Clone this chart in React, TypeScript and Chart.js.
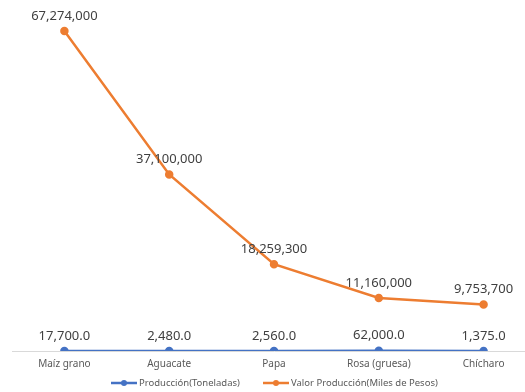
import React, { useEffect, useRef } from "react";
import { Chart, registerables } from "chart.js";

Chart.register(...registerables);

const categories = ["Maíz grano", "Aguacate", "Papa", "Rosa (gruesa)", "Chícharo"];
const produccion = [17700, 2480, 2560, 62000, 1375];
const valorProduccion = [67274000, 37100000, 18259300, 11160000, 9753700];
const seriesNames = ["Producción(Toneladas)", "Valor Producción(Miles de Pesos)"];

const BLUE = "#4472C4";
const ORANGE = "#ED7D31";
const TEXT = "#595959";
const FONT = "'Noto Sans', 'Open Sans', sans-serif";

const fmtTons = (v: number) =>
  v.toLocaleString("en-US", { minimumFractionDigits: 1, maximumFractionDigits: 1 });
const fmtPesos = (v: number) => v.toLocaleString("en-US");

// Value labels above every point
const valueLabels = {
  id: "valueLabels",
  afterDatasetsDraw(chart: any) {
    const ctx = chart.ctx;
    ctx.save();
    ctx.font = `13px ${FONT}`;
    ctx.fillStyle = "#404040";
    ctx.textAlign = "center";
    ctx.textBaseline = "middle";
    chart.data.datasets.forEach((ds: any, di: number) => {
      const meta = chart.getDatasetMeta(di);
      meta.data.forEach((pt: any, i: number) => {
        const v = ds.data[i];
        const txt = di === 0 ? fmtTons(v) : fmtPesos(v);
        ctx.fillText(txt, pt.x, pt.y - 15);
      });
    });
    ctx.restore();
  },
};

// Legend with line-and-marker swatches
const lineLegend = {
  id: "lineLegend",
  afterDraw(chart: any) {
    const ctx = chart.ctx;
    ctx.save();
    ctx.font = `9.5px ${FONT}`;
    ctx.textBaseline = "middle";
    ctx.textAlign = "left";
    const y = 383;
    const items = [
      { x: 111, color: BLUE, label: seriesNames[0] },
      { x: 263, color: ORANGE, label: seriesNames[1] },
    ];
    items.forEach((it) => {
      ctx.strokeStyle = it.color;
      ctx.lineWidth = 2.5;
      ctx.beginPath();
      ctx.moveTo(it.x, y);
      ctx.lineTo(it.x + 26, y);
      ctx.stroke();
      ctx.fillStyle = it.color;
      ctx.beginPath();
      ctx.arc(it.x + 13, y, 3, 0, Math.PI * 2);
      ctx.fill();
      ctx.fillStyle = TEXT;
      ctx.fillText(it.label, it.x + 28, y);
    });
    ctx.restore();
  },
};

export default function App() {
  const ref = useRef<HTMLCanvasElement | null>(null);

  useEffect(() => {
    if (!ref.current) return;
    const chart = new Chart(ref.current, {
      type: "line",
      data: {
        labels: categories,
        datasets: [
          {
            label: seriesNames[0],
            data: produccion,
            borderColor: BLUE,
            backgroundColor: BLUE,
            borderWidth: 2.5,
            pointRadius: 3,
            pointHoverRadius: 3,
            tension: 0,
          },
          {
            label: seriesNames[1],
            data: valorProduccion,
            borderColor: ORANGE,
            backgroundColor: ORANGE,
            borderWidth: 2.5,
            pointRadius: 3,
            pointHoverRadius: 3,
            tension: 0,
          },
        ],
      },
      options: {
        responsive: false,
        animation: false,
        layout: { padding: { left: 12, right: 12, top: 18, bottom: 15 } },
        plugins: {
          legend: { display: false },
          tooltip: { enabled: false },
        },
        scales: {
          x: {
            offset: true,
            grid: { display: false, drawTicks: false },
            border: { display: true, color: "#D9D9D9", width: 1 },
            ticks: {
              color: TEXT,
              font: { family: FONT, size: 10 },
              padding: 7,
              maxRotation: 0,
            },
          },
          y: {
            display: false,
            min: 0,
            max: 70000000,
          },
        },
      },
      plugins: [valueLabels, lineLegend],
    });
    return () => chart.destroy();
  }, []);

  return (
    <div
      style={{
        position: "fixed",
        left: 0,
        top: 0,
        width: 525,
        height: 392,
        overflow: "hidden",
        background: "#fff",
      }}
    >
      <canvas ref={ref} width={548} height={392} style={{ display: "block" }} />
    </div>
  );
}
